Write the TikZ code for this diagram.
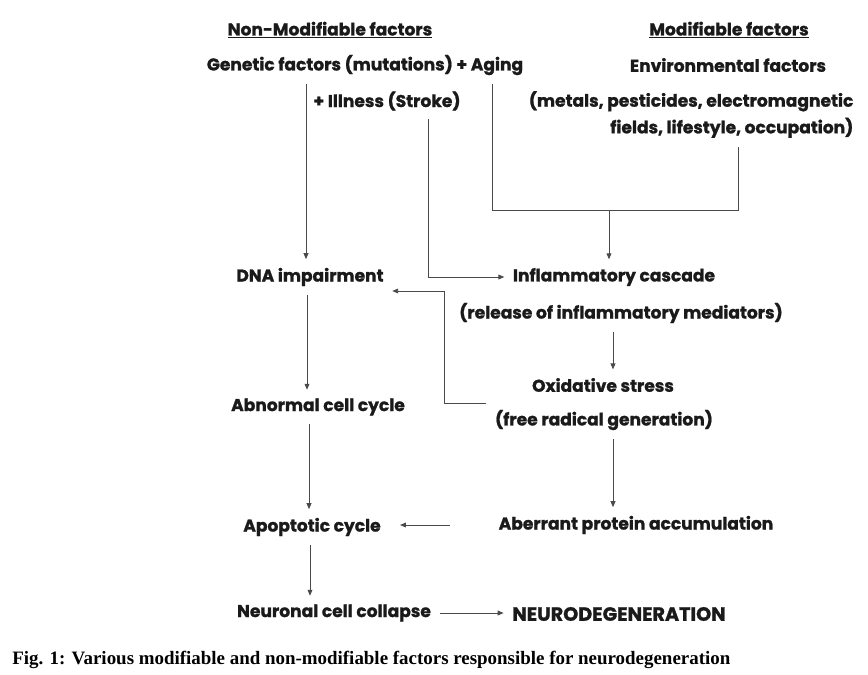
\documentclass[tikz,border=0pt]{standalone}
\usepackage{fontspec}
\setmainfont{Poppins}[BoldFeatures={FakeBold=1.2}]
\newfontfamily\capfont{Liberation Serif}
\usetikzlibrary{arrows.meta}
\definecolor{ln}{HTML}{4A4A4A}
\definecolor{tx}{HTML}{1A1A1A}
\begin{document}
\begin{tikzpicture}[x=0.75pt,y=-0.75pt,
  txt/.style={font=\bfseries\fontsize{12.8}{20}\selectfont, text=tx, inner sep=0pt, outer sep=6.5pt},
  conn/.style={draw=ln, line width=0.7pt},
  arr/.style={conn, -{Triangle[length=4.5pt,width=3.6pt]}}]
\useasboundingbox (0,0) rectangle (868,675);
% headers
\node[txt] (nm) at (330,30) {\underline{Non-Modifiable factors}};
\node[txt] (md) at (729,30) {\underline{Modifiable factors}};
\node[txt] (gen) at (365,65) {Genetic factors (mutations) + Aging};
\node[txt] (env) at (728,65) {Environmental factors};
\node[txt] (ill) at (387,101) {+ Illness (Stroke)};
\node[txt, align=right, anchor=east] (env2) at (862,114.5) {(metals, pesticides, electromagnetic\\fields, lifestyle, occupation)};
% left column
\node[txt] (dna) at (310,277) {DNA impairment};
\node[txt] (abn) at (318,407) {Abnormal cell cycle};
\node[txt] (apo) at (312,527) {Apoptotic cycle};
\node[txt] (neu) at (334,613) {Neuronal cell collapse};
% right column
\node[txt] (infl) at (614,277) {Inflammatory cascade};
\node[txt] (infl2) at (621,313) {(release of inflammatory mediators)};
\node[txt] (ox) at (603,385) {Oxidative stress};
\node[txt] (ox2) at (604,420) {(free radical generation)};
\node[txt] (aber) at (636,525) {Aberrant protein accumulation};
\node[txt, font=\bfseries\fontsize{14.4}{16}\selectfont] (neuro) at (619,614) {NEURODEGENERATION};
% caption
\node[font=\capfont\bfseries\fontsize{14.2}{16}\selectfont, inner sep=0pt, anchor=west] (cap) at (12,660) {Fig. 1: Various modifiable and non-modifiable factors responsible for neurodegeneration};
% bend coordinates
\coordinate (cIll) at (428,277);
\coordinate (cA) at (492,210);
\coordinate (cE) at (738,210);
\coordinate (xR) at (613,0);
\coordinate (cO) at (444,403);
\coordinate (cO2) at (444,291);
\coordinate (xL) at (306,0);
% connectors
\draw[arr] (gen.south -| xL) -- (dna.north -| xL);
\draw[arr] (ill.south -| cIll) -- (cIll) -- (infl.west);
\draw[conn] (gen.south -| cA) -- (cA) -- (cE) -- (env2.south -| cE);
\draw[arr] (cA -| 609,0) -- (infl.north -| 609,0);
\draw[arr] (infl2.south -| xR) -- (ox.north -| xR);
\draw[arr] (ox2.west |- cO) -- (cO) -- (cO2) -- (cO2 -| dna.east);
\draw[arr] (dna.south -| 307,0) -- (abn.north -| 307,0);
\draw[arr] (abn.south -| 309,0) -- (apo.north -| 309,0);
\draw[arr] (ox2.south -| xR) -- (aber.north -| xR);
\draw[arr, shorten <=30pt, shorten >=8pt] (aber.west) -- (aber.west -| apo.east);
\draw[arr] (apo.south -| 310,0) -- (neu.north -| 310,0);
\draw[arr] (neu.east) -- (neu.east -| neuro.west);
\end{tikzpicture}
\end{document}
